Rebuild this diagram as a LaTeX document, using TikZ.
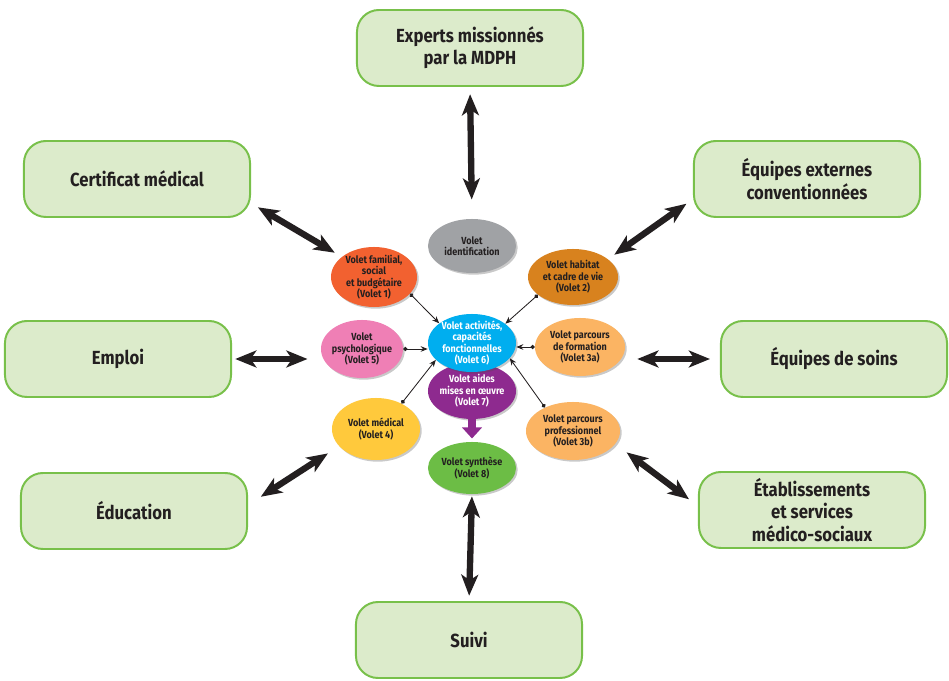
\documentclass[tikz,border=0pt]{standalone}
\usepackage{fontspec}
\setsansfont{Fira Sans}[FakeStretch=0.88]
\usetikzlibrary{arrows.meta,shapes.geometric,shadows}

\definecolor{boxfill}{HTML}{DCEBCB}
\definecolor{boxline}{HTML}{78C04A}
\definecolor{ink}{HTML}{231F20}
\definecolor{cident}{HTML}{A0A2A5}
\definecolor{cfam}{HTML}{F26130}
\definecolor{chab}{HTML}{D8821E}
\definecolor{cpsy}{HTML}{EF7FB5}
\definecolor{cact}{HTML}{00AEEF}
\definecolor{cform}{HTML}{FBB463}
\definecolor{caid}{HTML}{8E2A8F}
\definecolor{cmed}{HTML}{FFC93C}
\definecolor{csyn}{HTML}{6CBD45}

\begin{document}
\begin{tikzpicture}[x=0.025cm, y=-0.025cm,
  box/.style = {draw=boxline, fill=boxfill, line width=1.4pt, rounded corners=0.55cm,
    minimum width=5.65cm, minimum height=1.9cm, align=center, text=ink,
    font=\sffamily\bfseries\fontsize{13.5}{15.8}\selectfont},
  volet/.style = {ellipse, inner sep=-4pt, align=center, text=ink,
    font=\sffamily\bfseries\fontsize{7.3}{8.2}\selectfont,
    drop shadow={shadow xshift=1.2pt, shadow yshift=-1.2pt, opacity=0.3, fill=black!70}},
  big/.style = {draw=ink, line width=4.5pt,
    {Stealth[length=15pt,width=12pt,inset=4pt]}-{Stealth[length=15pt,width=12pt,inset=4pt]}},
  small/.style = {draw=ink, line width=0.6pt, {Circle[length=3pt]}-{Stealth[length=5pt,width=4pt]}}]

\useasboundingbox (0,0) rectangle (949,681);

% outer boxes
\node[box] (exp) at (470,48) {Experts missionnés\\par la MDPH};
\node[box] (cert) at (137,179) {Certificat médical};
\node[box] (ext) at (807,179) {Équipes externes\\conventionnées};
\node[box] (emp) at (118,359) {Emploi};
\node[box] (soins) at (834,359) {Équipes de soins};
\node[box] (educ) at (134,511) {Éducation};
\node[box] (etab) at (812,510) {Établissements\\et services\\médico-sociaux};
\node[box] (suivi) at (469,640) {Suivi};

% volets
\node[volet, fill=cident, minimum width=2.2cm, minimum height=1.35cm] (ident) at (472,246) {Volet\\identification};
\node[volet, fill=cfam, minimum width=2.15cm, minimum height=1.5cm] (fam) at (374,277) {Volet familial,\\social\\et budgétaire\\(Volet 1)};
\node[volet, fill=chab, minimum width=2.25cm, minimum height=1.4cm] (hab) at (573,277) {Volet habitat\\et cadre de vie\\(Volet 2)};
\node[volet, fill=cpsy, minimum width=2.05cm, minimum height=1.45cm] (psy) at (362,349) {Volet\\psychologique\\(Volet 5)};
\node[volet, fill=cform, minimum width=2.25cm, minimum height=1.45cm] (form) at (580,347) {Volet parcours\\de formation\\(Volet 3a)};
\node[volet, fill=caid, text=white, minimum width=2.2cm, minimum height=1.4cm] (aid) at (472,391) {Volet aides\\mises en œuvre\\(Volet 7)};
\node[volet, fill=cact, text=white, minimum width=2.2cm, minimum height=1.45cm] (act) at (472,343) {Volet activités,\\capacités\\fonctionnelles\\(Volet 6)};
\node[volet, fill=cmed, minimum width=2.2cm, minimum height=1.55cm] (med) at (376,429) {Volet médical\\(Volet 4)};
\node[volet, fill=cform, minimum width=2.35cm, minimum height=1.45cm] (pro) at (573,431) {Volet parcours\\professionnel\\(Volet 3b)};
\node[volet, fill=csyn, minimum width=2.2cm, minimum height=1.3cm] (syn) at (472,468) {Volet synthèse\\(Volet 8)};

% big arrows
\draw[big, shorten <=0.18cm, shorten >=0.48cm] (exp.south) -- (ident.north);
\draw[big, shorten <=0.2cm, shorten >=0.2cm] (cert.-12) -- (fam.148);
\draw[big, shorten <=0.2cm, shorten >=0.19cm] (ext.190) -- (hab.27);
\draw[big, shorten <=0.08cm, shorten >=0.33cm] (emp.east) -- (emp.east -| psy.west);
\draw[big, shorten <=0.25cm, shorten >=0.3cm] (soins.west) -- (soins.west -| form.east);
\draw[big, shorten <=0.38cm, shorten >=0.33cm] (educ.3) -- (med.205);
\draw[big, shorten <=0.28cm, shorten >=0.35cm] (etab.178) -- (pro.-17);
\draw[big, shorten <=0.05cm, shorten >=0.13cm] (syn.south) -- (suivi.north);

% small arrows
\draw[small] (fam.-25) -- (act.149);
\draw[small] (hab.207) -- (act.30);
\draw[small] (psy.east) -- (psy.east -| act.west);
\draw[small] (form.west) -- (form.west -| act.east);
\draw[small] (med.45) -- (act.205);
\draw[small] (pro.140) -- (act.-22);

\draw[draw=caid, line width=5.5pt, -{Triangle[length=8pt,width=14pt]}, shorten >=0.08cm] (aid.south) -- (syn.north);

\end{tikzpicture}
\end{document}
